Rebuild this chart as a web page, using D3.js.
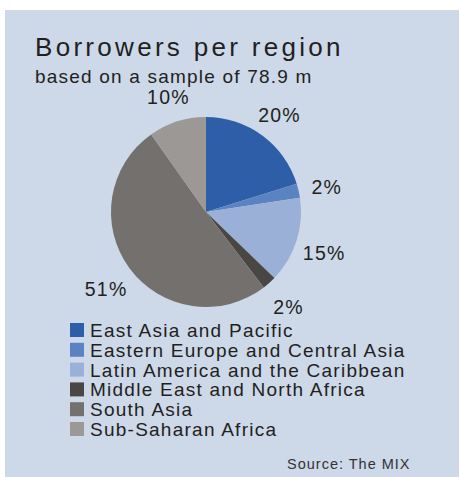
<!DOCTYPE html>
<html>
<head>
<meta charset="utf-8">
<script src="https://cdn.jsdelivr.net/npm/d3@7"></script>
<style>
  body { margin: 0; background: #fff; }
  text { font-family: "Liberation Sans", Arial, sans-serif; fill: #231f20; }
</style>
</head>
<body>
<div id="chart"></div>
<script>
var width = 460,
    height = 477;

// data
var regions = ["East Asia and Pacific", "Eastern Europe and Central Asia",
    "Latin America and the Caribbean", "Middle East and North Africa",
    "South Asia", "Sub-Saharan Africa"];
var shares = [20.2, 2.4, 14.6, 2.4, 50.6, 9.8];
var colours = ["#2f5ea9", "#5c83c1", "#9bb0d7", "#4a4644", "#74706d", "#9b9896"];

var svg = d3.select("#chart").append("svg")
    .attr("width", width)
    .attr("height", height);

svg.append("rect")
    .attr("x", 5)
    .attr("y", 10)
    .attr("width", 454)
    .attr("height", height - 10)
    .style("fill", "#cdd8e9");

svg.append("text")
    .attr("x", 35)
    .attr("y", 56)
    .attr("font-size", 26)
    .attr("letter-spacing", 3.3)
    .text("Borrowers per region");

svg.append("text")
    .attr("x", 35)
    .attr("y", 83)
    .attr("font-size", 19)
    .attr("letter-spacing", 1.2)
    .text("based on a sample of 78.9 m");

var cx = 206, cy = 212, radius = 95;

var pie = d3.pie().sort(null).value(function (d) { return d; });
var arcs = pie(shares);
var arc = d3.arc().innerRadius(0).outerRadius(radius);
var labelArc = d3.arc().innerRadius(124).outerRadius(124);

var g = svg.append("g").attr("transform", "translate(" + cx + "," + cy + ")");

g.selectAll("path")
    .data(arcs)
    .enter()
    .append("path")
    .attr("d", arc)
    .style("fill", function (d, i) { return colours[i]; });

g.selectAll("text.lab")
    .data(arcs)
    .enter()
    .append("text")
    .attr("class", "lab")
    .attr("transform", function (d) {
        var c = labelArc.centroid(d);
        return "translate(" + c[0] + "," + (c[1] + 10) + ")";
    })
    .attr("text-anchor", "middle")
    .attr("font-size", 19.5)
    .attr("letter-spacing", 1.2)
    .text(function (d) { return Math.round(d.data) + "%"; });

var legend = svg.append("g").attr("transform", "translate(70,323)");

var rows = legend.selectAll("g")
    .data(regions)
    .enter()
    .append("g")
    .attr("transform", function (d, i) { return "translate(0," + (i * 19.8) + ")"; });

rows.append("rect")
    .attr("width", 14)
    .attr("height", 14)
    .style("fill", function (d, i) { return colours[i]; });

rows.append("text")
    .attr("x", 20)
    .attr("y", 14)
    .attr("font-size", 19)
    .attr("letter-spacing", 1.25)
    .text(function (d) { return d; });

svg.append("text")
    .attr("x", 287)
    .attr("y", 469)
    .attr("font-size", 14.5)
    .attr("letter-spacing", 1)
    .style("fill", "#333")
    .text("Source:  The MIX");
</script>
</body>
</html>
